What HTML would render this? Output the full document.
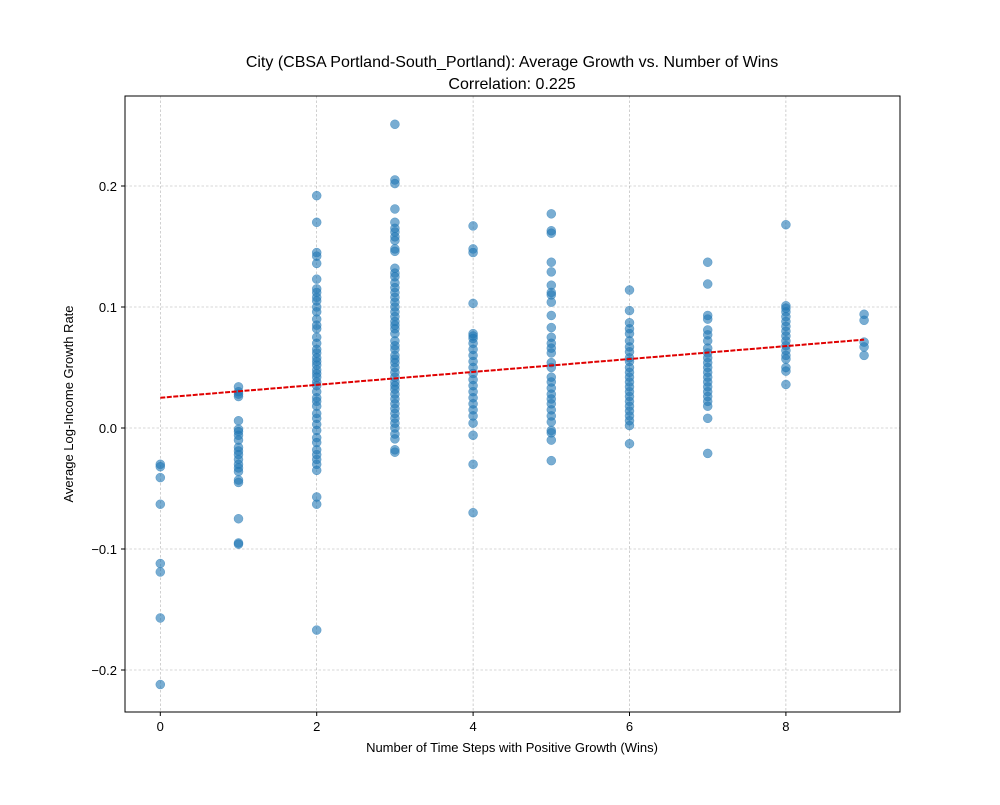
<!DOCTYPE html>
<html><head><meta charset="utf-8"><style>
body{margin:0;background:#fff;}
svg text{font-family:"Liberation Sans","DejaVu Sans",sans-serif;fill:#000;}
</style></head><body>
<svg id="chart" width="1000" height="800" xmlns="http://www.w3.org/2000/svg">
<rect width="1000" height="800" fill="#fff"/>
<g id="grid"></g>
<g id="points"></g>
<g id="trend"></g>
<rect x="125" y="96" width="775" height="616" fill="none" stroke="#000" stroke-width="1"/>
<g id="axes"></g>
<text x="512" y="67" font-size="16" text-anchor="middle">City (CBSA Portland-South_Portland): Average Growth vs. Number of Wins</text>
<text x="512" y="89" font-size="16" text-anchor="middle">Correlation: 0.225</text>
<text x="512" y="752" font-size="13" text-anchor="middle">Number of Time Steps with Positive Growth (Wins)</text>
<text transform="translate(73,404) rotate(-90)" font-size="13" text-anchor="middle">Average Log-Income Growth Rate</text>
</svg>
<script>
const winsCategories=[0,1,2,3,4,5,6,7,8,9];
const growth0=[-0.030,-0.032,-0.041,-0.063,-0.112,-0.119,-0.157,-0.212];
const growth1=[0.034,0.030,0.028,0.026,0.006,-0.001,-0.003,-0.006,-0.010,-0.016,-0.019,-0.022,-0.026,-0.030,-0.033,-0.036,-0.043,-0.045,-0.075,-0.095,-0.096];
const growth2=[0.192,0.170,0.145,0.142,0.136,0.123,0.115,0.112,0.108,0.105,0.100,0.096,0.090,0.085,0.082,0.075,0.070,0.065,0.062,0.058,0.055,0.052,0.048,0.045,0.042,0.038,0.035,0.030,0.025,0.022,0.018,0.012,0.008,0.003,-0.002,-0.008,-0.012,-0.018,-0.022,-0.026,-0.030,-0.035,-0.057,-0.063,-0.167];
const growth3=[0.251,0.205,0.202,0.181,0.170,0.165,0.162,0.158,0.155,0.148,0.146,0.132,0.128,0.125,0.120,0.116,0.112,0.108,0.104,0.100,0.096,0.092,0.088,0.085,0.082,0.078,0.072,0.068,0.065,0.060,0.057,0.054,0.050,0.046,0.042,0.038,0.035,0.032,0.028,0.024,0.020,0.016,0.012,0.008,0.004,0.000,-0.005,-0.009,-0.018,-0.020];
const growth4=[0.167,0.148,0.145,0.103,0.078,0.076,0.074,0.070,0.065,0.060,0.055,0.050,0.045,0.040,0.035,0.030,0.025,0.020,0.015,0.010,0.004,-0.006,-0.030,-0.070];
const growth5=[0.177,0.163,0.161,0.137,0.129,0.118,0.112,0.110,0.104,0.093,0.083,0.075,0.070,0.066,0.062,0.054,0.050,0.042,0.038,0.033,0.028,0.024,0.020,0.015,0.010,0.005,-0.002,-0.004,-0.010,-0.027];
const growth6=[0.114,0.097,0.087,0.082,0.078,0.072,0.067,0.063,0.058,0.055,0.050,0.046,0.042,0.038,0.034,0.030,0.026,0.022,0.018,0.014,0.010,0.006,0.002,-0.013];
const growth7=[0.137,0.119,0.093,0.090,0.081,0.077,0.072,0.066,0.062,0.058,0.054,0.050,0.046,0.042,0.038,0.034,0.030,0.026,0.022,0.018,0.008,-0.021];
const growth8=[0.168,0.101,0.099,0.096,0.092,0.088,0.084,0.080,0.076,0.072,0.068,0.064,0.060,0.057,0.050,0.047,0.036];
const growth9=[0.094,0.089,0.071,0.067,0.060];
const growthSeries=[growth0,growth1,growth2,growth3,growth4,growth5,growth6,growth7,growth8,growth9];
const trendEnds=[0.025,0.073];
const xTicks=[0,2,4,6,8];
const yTicks=[-0.2,-0.1,0.0,0.1,0.2];
const yTickLabels=["\u22120.2","\u22120.1","0.0","0.1","0.2"];

const NS="http://www.w3.org/2000/svg";
function xs(v){return 160.3+v*78.2;}
function ys(v){return 428-v*1210;}
function mk(tag,attrs,parent){const e=document.createElementNS(NS,tag);for(const k in attrs)e.setAttribute(k,attrs[k]);parent.appendChild(e);return e;}
const grid=document.getElementById('grid'),axes=document.getElementById('axes'),pts=document.getElementById('points'),tr=document.getElementById('trend');
xTicks.forEach(t=>{
  const g=mk('line',{x1:xs(t),x2:xs(t),y1:96,y2:712,stroke:'#b0b0b0','stroke-width':0.6,'stroke-dasharray':'2.5,2'},grid);
  
  
  const tk=mk('line',{x1:xs(t),x2:xs(t),y1:712,y2:716,stroke:'#000'},axes);
  
  
  const tl=mk('text',{x:xs(t),y:731,'font-size':13,'text-anchor':'middle'},axes);tl.textContent=t;
  
  
});
yTicks.forEach((t,i)=>{
  const g=mk('line',{x1:125,x2:900,y1:ys(t),y2:ys(t),stroke:'#b0b0b0','stroke-width':0.6,'stroke-dasharray':'2.5,2'},grid);
  
  
  const tk=mk('line',{x1:121,x2:125,y1:ys(t),y2:ys(t),stroke:'#000'},axes);
  
  
  const tl=mk('text',{x:117,y:ys(t)+5,'font-size':13,'text-anchor':'end'},axes);tl.textContent=yTickLabels[i];
  
  
});
growthSeries.forEach((arr,i)=>{
  arr.forEach(v=>{
    const c=mk('circle',{cx:xs(winsCategories[i]),cy:ys(v),r:4.5,fill:'#1f77b4','fill-opacity':0.6,stroke:'#1f77b4','stroke-opacity':0.6,'stroke-width':0.5},pts);
    
    
  });
});
const tl=mk('line',{x1:xs(winsCategories[0]),y1:ys(trendEnds[0]),x2:xs(winsCategories[winsCategories.length-1]),y2:ys(trendEnds[1]),stroke:'#e00000','stroke-width':2,'stroke-dasharray':'5,1.5'},tr);


</script>
</body></html>
